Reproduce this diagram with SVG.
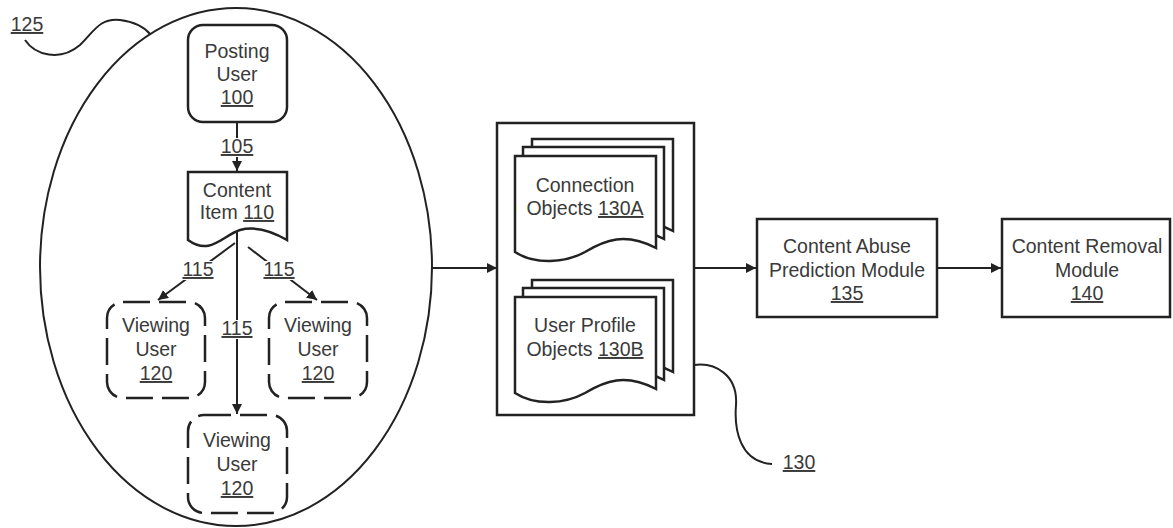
<svg xmlns="http://www.w3.org/2000/svg" width="1173" height="528" viewBox="0 0 1173 528">
<defs>
<style>
.ln{fill:none;stroke:#222;stroke-width:2}
.bx{fill:#fff;stroke:#222;stroke-width:2.5}
.dash{fill:#fff;stroke:#222;stroke-width:2.5;stroke-dasharray:27 9}
.t{font-family:"Liberation Sans",Arial,sans-serif;font-size:19.5px;fill:#3a3a3a;text-anchor:middle}
.u{text-decoration:underline}
.bg{fill:#fff}
</style>
<marker id="ah" viewBox="0 0 10 10" refX="10" refY="5" markerWidth="10" markerHeight="10" markerUnits="userSpaceOnUse" orient="auto">
<path d="M0,0 L10,5 L0,10 Z" fill="#222"/>
</marker>
<path id="doc" d="M0,0 H141 V92 C110,76 90,84 70,96 C50,107 20,109 0,96 Z"/>
</defs>
<rect width="1173" height="528" fill="#fff"/>

<g id="group125">
<ellipse cx="236" cy="267" rx="196" ry="259" class="ln"/>
<path d="M25,40 C35,55 60,62 80,45 C95,30 100,18 120,20 C135,22 145,28 150,34" class="ln"/>
<text x="27" y="31" class="t u">125</text>
</g>

<g id="connectors">
<line x1="237" y1="122" x2="237" y2="171" class="ln" marker-end="url(#ah)"/>
<line x1="235" y1="243" x2="158" y2="300" class="ln" marker-end="url(#ah)"/>
<line x1="248" y1="247" x2="317" y2="300" class="ln" marker-end="url(#ah)"/>
<line x1="237" y1="232" x2="237" y2="414" class="ln" marker-end="url(#ah)"/>
<line x1="432" y1="268" x2="497" y2="268" class="ln" marker-end="url(#ah)"/>
<line x1="694" y1="268" x2="756" y2="268" class="ln" marker-end="url(#ah)"/>
<line x1="937" y1="268" x2="1001" y2="268" class="ln" marker-end="url(#ah)"/>
<rect x="220" y="138" width="34" height="19" class="bg"/>
<text x="237" y="153" class="t u">105</text>
<rect x="181" y="261" width="34" height="19" class="bg"/>
<text x="198" y="276" class="t u">115</text>
<rect x="262" y="261" width="34" height="19" class="bg"/>
<text x="279" y="276" class="t u">115</text>
<rect x="220" y="320" width="34" height="19" class="bg"/>
<text x="237" y="335" class="t u">115</text>
</g>

<g id="posting-user-100">
<rect x="188" y="25" width="99" height="97" rx="15" class="bx"/>
<text x="237" y="58" class="t">Posting</text>
<text x="237" y="81" class="t">User</text>
<text x="237" y="104" class="t u">100</text>
</g>

<g id="content-item-110">
<path d="M188,172 H287 V240 C270,230 255,226 240,230 C222,236 210,256 188,240 Z" class="bx"/>
<text x="237" y="197" class="t">Content</text>
<text x="237" y="219" class="t">Item <tspan class="u">110</tspan></text>
</g>

<g id="viewing-user-120-left">
<rect x="107" y="302" width="98" height="96" rx="16" class="dash"/>
<text x="156" y="332" class="t">Viewing</text>
<text x="156" y="356" class="t">User</text>
<text x="156" y="380" class="t u">120</text>
</g>

<g id="viewing-user-120-right">
<rect x="269" y="302" width="98" height="96" rx="16" class="dash"/>
<text x="318" y="332" class="t">Viewing</text>
<text x="318" y="356" class="t">User</text>
<text x="318" y="380" class="t u">120</text>
</g>

<g id="viewing-user-120-bottom">
<rect x="188" y="415" width="99" height="98" rx="16" class="dash"/>
<text x="237" y="447" class="t">Viewing</text>
<text x="237" y="471" class="t">User</text>
<text x="237" y="495" class="t u">120</text>
</g>

<g id="data-store-130">
<rect x="497" y="123" width="197" height="292" class="bx"/>
<path d="M694,365 C715,362 738,375 736,405 C734,430 740,462 772,464" class="ln"/>
<text x="799" y="469" class="t u">130</text>
</g>

<g id="connection-objects-130A">
<use href="#doc" x="532" y="139" class="bx"/>
<use href="#doc" x="523" y="147" class="bx"/>
<use href="#doc" x="515" y="156" class="bx"/>
<text x="585" y="192" class="t">Connection</text>
<text x="585" y="215" class="t">Objects <tspan class="u">130A</tspan></text>
</g>

<g id="user-profile-objects-130B">
<use href="#doc" x="532" y="280" class="bx"/>
<use href="#doc" x="523" y="288" class="bx"/>
<use href="#doc" x="515" y="297" class="bx"/>
<text x="585" y="332" class="t">User Profile</text>
<text x="585" y="356" class="t">Objects <tspan class="u">130B</tspan></text>
</g>

<g id="content-abuse-prediction-module-135">
<rect x="757" y="219" width="180" height="98" class="bx"/>
<text x="847" y="253" class="t">Content Abuse</text>
<text x="847" y="277" class="t">Prediction Module</text>
<text x="847" y="300" class="t u">135</text>
</g>

<g id="content-removal-module-140">
<rect x="1002" y="219" width="168" height="98" class="bx"/>
<text x="1087" y="253" class="t">Content Removal</text>
<text x="1087" y="277" class="t">Module</text>
<text x="1087" y="300" class="t u">140</text>
</g>
</svg>
